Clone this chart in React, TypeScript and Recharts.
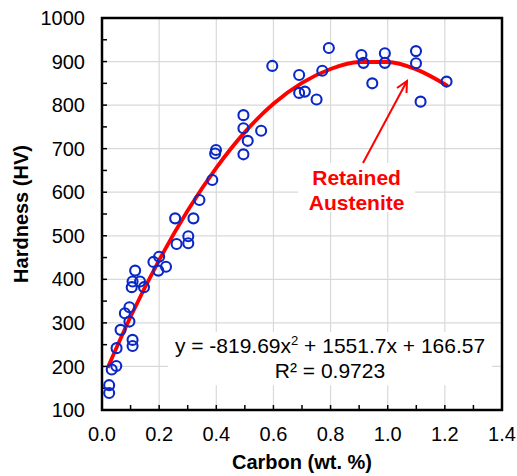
import * as React from "react"
import { ComposedChart, Scatter, Line, XAxis, YAxis, CartesianGrid, ReferenceArea } from "recharts"

// measured points: carbon (wt. %) vs hardness (HV)
const carbon = [
  0.025, 0.025, 0.034, 0.05, 0.051, 0.065, 0.08, 0.096, 0.096, 0.107,
  0.107, 0.104, 0.107, 0.116, 0.133, 0.147, 0.18, 0.197, 0.2, 0.224,
  0.261, 0.302, 0.302, 0.256, 0.32, 0.341, 0.386, 0.399, 0.396, 0.495,
  0.495, 0.495, 0.51, 0.557, 0.596, 0.69, 0.69, 0.71, 0.751, 0.771,
  0.794, 0.908, 0.915, 0.946, 0.99, 0.99, 1.099, 1.099, 1.115, 1.206,
]
const hardness = [
  157, 139, 193, 201, 242, 284, 322, 303, 336, 261,
  247, 382, 395, 420, 395, 382, 440, 420, 452, 429,
  481, 483, 499, 540, 540, 582, 628, 697, 689, 777,
  747, 687, 718, 741, 890, 869, 828, 831, 813, 879,
  931, 915, 897, 850, 919, 897, 924, 896, 808, 854,
]

// polynomial trendline
const trendC = [0.02, 0.1, 0.2, 0.3, 0.4, 0.5, 0.6, 0.7, 0.8, 0.9, 1.0, 1.1, 1.21]
const trendHV = [197, 314, 444, 558, 656, 738, 803, 851, 883, 899, 899, 882, 844]

const xTicks = [0, 0.1, 0.2, 0.3, 0.4, 0.5, 0.6, 0.7, 0.8, 0.9, 1.0, 1.1, 1.2, 1.3, 1.4]
const yTicks = [100, 150, 200, 250, 300, 350, 400, 450, 500, 550, 600, 650, 700, 750, 800, 850, 900, 950, 1000]
const xGrid = [0.2, 0.4, 0.6, 0.8, 1.0, 1.2]
const yGrid = [200, 300, 400, 500, 600, 700, 800, 900]

const points = carbon.map((c, i) => ({ c, hv: hardness[i] }))
const trend = trendC.map((c, i) => ({ c, hv: trendHV[i] }))

const font = "'Liberation Sans', Arial, sans-serif"
const blue = "#0A28C8"
const red = "#FF0000"

const XTick = (props: any) => {
  const { x, y, payload } = props
  if (Math.round(payload.value * 10) % 2 !== 0) return null
  return (
    <text x={x} y={y} dy="0.71em" textAnchor="middle" fontSize={20} fontFamily={font} fill="#000">
      {payload.value.toFixed(1)}
    </text>
  )
}

const YTick = (props: any) => {
  const { x, y, payload } = props
  if (payload.value % 100 !== 0) return null
  return (
    <text x={x} y={y} dy="0.355em" textAnchor="end" fontSize={20} fontFamily={font} fill="#000">
      {payload.value}
    </text>
  )
}

const Circle = (props: any) => (
  <circle cx={props.cx} cy={props.cy} r={5} fill="none" stroke={blue} strokeWidth={2.1} />
)

const EquationLabel = (props: any) => {
  const { x, y, width } = props.viewBox
  const cx = x + width / 2
  return (
    <g fontFamily={font} fontSize={21} fill="#000">
      <text x={cx} y={y + 21} textAnchor="middle">
        y = -819.69x<tspan dy={-8} fontSize={13}>2</tspan>
        <tspan dy={8}> + 1551.7x + 166.57</tspan>
      </text>
      <text x={cx} y={y + 46} textAnchor="middle">R² = 0.9723</text>
    </g>
  )
}

const AusteniteLabel = (props: any) => {
  const { x, y, width } = props.viewBox
  const cx = x + width / 2
  // arrow from top of the label up to the curve
  const tx = x + 65, ty = y
  const hx = x + 109, hy = y - 82
  return (
    <g>
      <line x1={tx} y1={ty} x2={hx} y2={hy} stroke={red} strokeWidth={2} />
      <polyline points={`${hx - 10},${hy + 7} ${hx},${hy} ${hx - 0.5},${hy + 12}`} fill="none" stroke={red} strokeWidth={2} />
      <text x={cx} y={y + 22} textAnchor="middle" fontFamily={font} fontSize={21} fontWeight="bold" fill={red}>Retained</text>
      <text x={cx} y={y + 47} textAnchor="middle" fontFamily={font} fontSize={21} fontWeight="bold" fill={red}>Austenite</text>
    </g>
  )
}

export default function App() {
  return (
    <div style={{ position: "absolute", left: 0, top: 0, width: 517, height: 476, background: "#fff" }}>
      <ComposedChart width={517} height={476} margin={{ top: 18, right: 15, left: 0, bottom: 0 }}>
        <CartesianGrid stroke="#D9D9D9" strokeWidth={1.2} horizontalValues={yGrid} verticalValues={xGrid} />
        <XAxis
          dataKey="c"
          type="number"
          domain={[0, 1.4]}
          ticks={xTicks}
          interval={0}
          height={66}
          axisLine={false}
          tickSize={-5}
          tickMargin={22}
          tickLine={{ stroke: "#000", strokeWidth: 1.5 }}
          tick={<XTick />}
          label={(p: any) => (
            <text x={p.viewBox.x + p.viewBox.width / 2} y={p.viewBox.y + 59} textAnchor="middle" fontFamily={font} fontSize={20} fontWeight="bold" fill="#000">
              Carbon (wt. %)
            </text>
          )}
        />
        <YAxis
          dataKey="hv"
          type="number"
          domain={[100, 1000]}
          ticks={yTicks}
          interval={0}
          width={102}
          axisLine={false}
          tickSize={-5}
          tickMargin={22}
          tickLine={{ stroke: "#000", strokeWidth: 1.5 }}
          tick={<YTick />}
          label={(p: any) => (
            <text x={27.5} y={214} transform="rotate(-90 27.5 214)" textAnchor="middle" fontFamily={font} fontSize={20} fontWeight="bold" fill="#000">
              Hardness (HV)
            </text>
          )}
        />
        <ReferenceArea x1={0.231} x2={1.365} y1={157} y2={279} fill="#fff" fillOpacity={1} stroke="none" label={(p: any) => <EquationLabel {...p} />} />
        <ReferenceArea x1={0.686} x2={1.096} y1={555} y2={667} fill="#fff" fillOpacity={1} stroke="none" label={(p: any) => <AusteniteLabel {...p} />} />
        <Scatter data={points} dataKey="hv" shape={<Circle />} isAnimationActive={false} />
        <Line data={trend} dataKey="hv" type="monotone" stroke={red} strokeWidth={3.8} dot={false} activeDot={false} isAnimationActive={false} />
        <ReferenceArea x1={0} x2={1.4} y1={100} y2={1000} fill="none" stroke="#000" strokeWidth={2.5} />
      </ComposedChart>
    </div>
  )
}
